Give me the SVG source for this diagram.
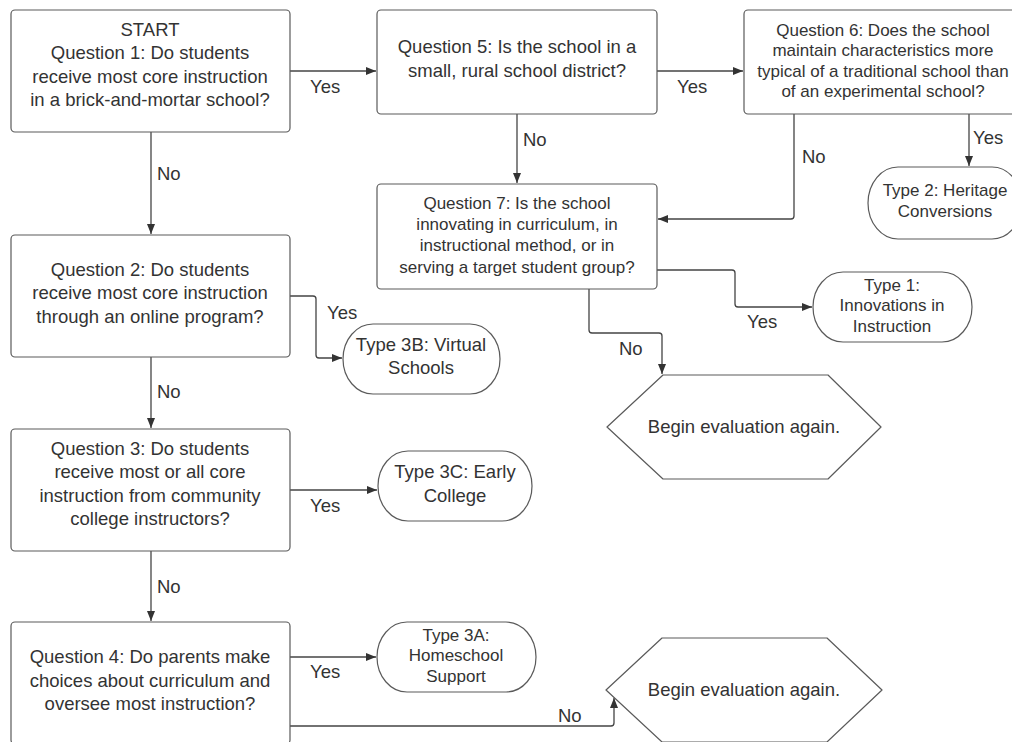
<svg xmlns="http://www.w3.org/2000/svg" width="1012" height="742" viewBox="0 0 1012 742">
<style>
text{font-family:"Liberation Sans",Arial,sans-serif;fill:#333;text-anchor:middle}
.m{font-size:18.5px}
.s{font-size:17px}
.l{font-size:18.5px;text-anchor:start}
.box{fill:#fff;stroke:#5a5a5a;stroke-width:1.2}
.c{fill:none;stroke:#444;stroke-width:1.3}
</style>
<defs>
<marker id="ah" markerUnits="userSpaceOnUse" markerWidth="11" markerHeight="9" refX="10" refY="4" orient="auto">
<path d="M0,0 L10,4 L0,8 z" fill="#333"/>
</marker>
</defs>
<rect width="1012" height="742" fill="#fff"/>
<g id="connectors">
<path class="c" d="M290,71 H376" marker-end="url(#ah)"/>
<path class="c" d="M151,132 V234" marker-end="url(#ah)"/>
<path class="c" d="M290,296 H313 Q316,296 316,299 V355 Q316,358 319,358 H342" marker-end="url(#ah)"/>
<path class="c" d="M151,357 V428" marker-end="url(#ah)"/>
<path class="c" d="M290,490 H377" marker-end="url(#ah)"/>
<path class="c" d="M151,551 V621" marker-end="url(#ah)"/>
<path class="c" d="M290,657 H376" marker-end="url(#ah)"/>
<path class="c" d="M290,726 H611 Q614,726 614,723 V698" marker-end="url(#ah)"/>
<path class="c" d="M657,71 H743" marker-end="url(#ah)"/>
<path class="c" d="M517,114 V183" stroke-width="1" marker-end="url(#ah)"/>
<path class="c" d="M794,114 V216 Q794,219 791,219 H658" marker-end="url(#ah)"/>
<path class="c" d="M969,114 V166" marker-end="url(#ah)"/>
<path class="c" d="M657,270 H732 Q735,270 735,273 V304 Q735,307 738,307 H812" marker-end="url(#ah)"/>
<path class="c" d="M589,289 V330 Q589,333 592,333 H659 Q662,333 662,336 V374" marker-end="url(#ah)"/>
<text class="l" x="310" y="93">Yes</text>
<text class="l" x="157" y="180">No</text>
<text class="l" x="327" y="319">Yes</text>
<text class="l" x="157" y="398">No</text>
<text class="l" x="310" y="512">Yes</text>
<text class="l" x="157" y="593">No</text>
<text class="l" x="310" y="678">Yes</text>
<text class="l" x="558" y="722">No</text>
<text class="l" x="677" y="93">Yes</text>
<text class="l" x="523" y="146">No</text>
<text class="l" x="802" y="163">No</text>
<text class="l" x="973" y="144">Yes</text>
<text class="l" x="747" y="328">Yes</text>
<text class="l" x="619" y="355">No</text>
</g>
<g id="q1">
<rect class="box" x="11" y="10" width="279" height="122" rx="4"/>
<text class="m" x="150" y="36">START</text>
<text class="m" x="150" y="59">Question 1: Do students</text>
<text class="m" x="150" y="83">receive most core instruction</text>
<text class="m" x="150" y="106">in a brick-and-mortar school?</text>
</g>
<g id="q2">
<rect class="box" x="11" y="235" width="279" height="122" rx="4"/>
<text class="m" x="150" y="276">Question 2: Do students</text>
<text class="m" x="150" y="299">receive most core instruction</text>
<text class="m" x="150" y="323">through an online program?</text>
</g>
<g id="q3">
<rect class="box" x="11" y="429" width="279" height="122" rx="4"/>
<text class="m" x="150" y="455">Question 3: Do students</text>
<text class="m" x="150" y="478">receive most or all core</text>
<text class="m" x="150" y="502">instruction from community</text>
<text class="m" x="150" y="525">college instructors?</text>
</g>
<g id="q4">
<rect class="box" x="11" y="622" width="279" height="122" rx="4"/>
<text class="m" x="150" y="663">Question 4: Do parents make</text>
<text class="m" x="150" y="687">choices about curriculum and</text>
<text class="m" x="150" y="710">oversee most instruction?</text>
</g>
<g id="q5">
<rect class="box" x="377" y="10" width="280" height="104" rx="4"/>
<text class="m" x="517" y="53">Question 5: Is the school in a</text>
<text class="m" x="517" y="77">small, rural school district?</text>
</g>
<g id="q6">
<rect class="box" x="744" y="10" width="278" height="104" rx="4"/>
<text class="s" x="883" y="36">Question 6: Does the school</text>
<text class="s" x="883" y="56">maintain characteristics more</text>
<text class="s" x="883" y="77">typical of a traditional school than</text>
<text class="s" x="883" y="97">of an experimental school?</text>
</g>
<g id="q7">
<rect class="box" x="377" y="184" width="280" height="105" rx="4"/>
<text class="s" x="517" y="209">Question 7: Is the school</text>
<text class="s" x="517" y="230">innovating in curriculum, in</text>
<text class="s" x="517" y="251">instructional method, or in</text>
<text class="s" x="517" y="273">serving a target student group?</text>
</g>
<g id="type2">
<rect class="box" x="868" y="167" width="154" height="72" rx="30" ry="36"/>
<text class="s" x="945" y="196">Type 2: Heritage</text>
<text class="s" x="945" y="217">Conversions</text>
</g>
<g id="type1">
<rect class="box" x="813" y="272" width="159" height="70" rx="30" ry="35"/>
<text class="s" x="892" y="291">Type 1:</text>
<text class="s" x="892" y="311">Innovations in</text>
<text class="s" x="892" y="332">Instruction</text>
</g>
<g id="type3b">
<rect class="box" x="343" y="324" width="157" height="70" rx="30" ry="35"/>
<text class="m" x="421" y="351">Type 3B: Virtual</text>
<text class="m" x="421" y="374">Schools</text>
</g>
<g id="type3c">
<rect class="box" x="378" y="451" width="154" height="70" rx="30" ry="35"/>
<text class="m" x="455" y="478">Type 3C: Early</text>
<text class="m" x="455" y="502">College</text>
</g>
<g id="type3a">
<rect class="box" x="377" y="622" width="159" height="70" rx="30" ry="35"/>
<text class="s" x="456" y="641">Type 3A:</text>
<text class="s" x="456" y="661">Homeschool</text>
<text class="s" x="456" y="682">Support</text>
</g>
<g id="hex1">
<polygon class="box" stroke-linejoin="round" points="607,427 663,375 828,375 881,427 828,479 663,479"/>
<text class="m" x="744" y="433">Begin evaluation again.</text>
</g>
<g id="hex2">
<polygon class="box" stroke-linejoin="round" points="606,690 662,638 827,638 882,690 827,742 662,742"/>
<text class="m" x="744" y="696">Begin evaluation again.</text>
</g>
</svg>
